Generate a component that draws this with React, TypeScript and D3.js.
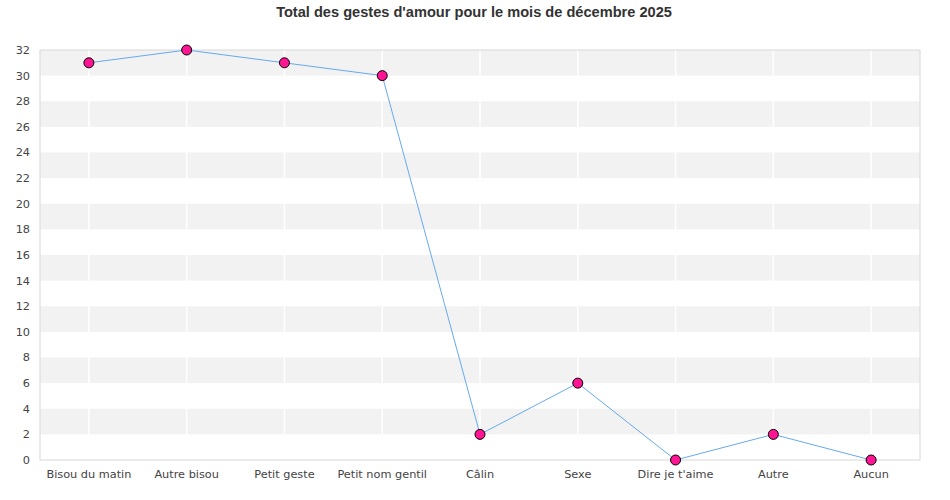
import React from "react";
import * as d3 from "d3";

const categories = ["Bisou du matin", "Autre bisou", "Petit geste", "Petit nom gentil", "Câlin", "Sexe", "Dire je t'aime", "Autre", "Aucun"];
const values = [31, 32, 31, 30, 2, 6, 0, 2, 0];
const yTicks = [0, 2, 4, 6, 8, 10, 12, 14, 16, 18, 20, 22, 24, 26, 28, 30, 32];
const title = "Total des gestes d'amour pour le mois de décembre 2025";

export default function App() {
  const W = 950, H = 500;
  const left = 40, right = 920, top = 50, bottom = 460;
  const x = d3.scalePoint<string>().domain(categories).range([left, right]).padding(0.5);
  const y = d3.scaleLinear().domain([0, 32]).range([bottom, top]);
  const line = d3.line<number>().x((_, i) => x(categories[i])!).y((d) => y(d));
  const bands = yTicks.filter((t) => t % 4 === 2 && t < 32);
  return (
    <svg width={W} height={H} style={{ position: "absolute", left: 0, top: 0 }}>
      <rect x={0} y={0} width={W} height={H} fill="#fff" />
      <text x={474} y={17} textAnchor="middle" fontFamily="Liberation Sans, Arial, sans-serif" fontWeight="bold" fontSize={14.6} fill="#333">{title}</text>
      {bands.map((b) => (
        <rect key={b} x={left} y={y(b + 2)} width={right - left} height={y(b) - y(b + 2)} fill="#f2f2f2" />
      ))}
      {categories.map((c) => (
        <line key={c} x1={x(c)} x2={x(c)} y1={top} y2={bottom} stroke="#fff" strokeWidth={1.5} />
      ))}
      <rect x={left} y={top} width={right - left} height={bottom - top} fill="none" stroke="#d8d8d8" strokeWidth={1} />
      {yTicks.map((t) => (
        <text key={t} x={30} y={y(t)} dy="0.35em" textAnchor="end" fontFamily="DejaVu Sans, sans-serif" fontSize={11.3} fill="#444">{t}</text>
      ))}
      {categories.map((c) => (
        <text key={c} x={x(c)} y={478} textAnchor="middle" fontFamily="DejaVu Sans, sans-serif" fontSize={11.3} fill="#444">{c}</text>
      ))}
      <path d={line(values)!} fill="none" stroke="#66aaee" strokeWidth={1} />
      {values.map((v, i) => (
        <circle key={i} cx={x(categories[i])} cy={y(v)} r={5} fill="#ff1493" stroke="#000" strokeWidth={1} />
      ))}
    </svg>
  );
}
